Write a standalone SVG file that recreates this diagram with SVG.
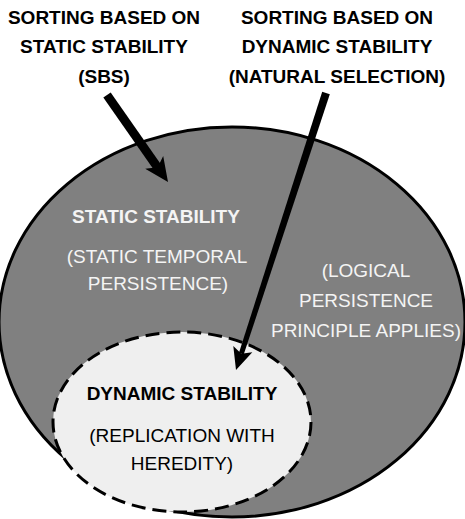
<svg xmlns="http://www.w3.org/2000/svg" width="465" height="519" viewBox="0 0 465 519">
<defs>
<style>
text{font-family:"Liberation Sans",Arial,sans-serif;font-size:19px;text-anchor:middle}
.b{font-weight:bold}
.k{fill:#000}
.w{fill:#f4f4f4}
.arrow{fill:#000;stroke:none}
</style>
</defs>
<rect width="465" height="519" fill="#fff"/>
<g id="static-stability">
<ellipse cx="232" cy="322" rx="233" ry="195" fill="#808080" stroke="#000" stroke-width="3"/>
<text class="b w" x="156" y="223">STATIC STABILITY</text>
<text class="w" x="157" y="263">(STATIC TEMPORAL</text>
<text class="w" x="158" y="290">PERSISTENCE)</text>
</g>
<g id="logical-persistence">
<text class="w" x="366" y="277">(LOGICAL</text>
<text class="w" x="366" y="307">PERSISTENCE</text>
<text class="w" x="366" y="337">PRINCIPLE APPLIES)</text>
</g>
<g id="dynamic-stability">
<ellipse cx="182" cy="422" rx="129" ry="90" fill="#efefef" stroke="#000" stroke-width="3" stroke-dasharray="14,7"/>
<text class="b k" x="182" y="400">DYNAMIC STABILITY</text>
<text class="k" x="182" y="442">(REPLICATION WITH</text>
<text class="k" x="182" y="470">HEREDITY)</text>
</g>
<g id="sbs-label">
<text class="b k" x="104" y="24">SORTING BASED ON</text>
<text class="b k" x="104" y="53">STATIC STABILITY</text>
<text class="b k" x="104" y="83">(SBS)</text>
</g>
<g id="natural-selection-label">
<text class="b k" x="337" y="24">SORTING BASED ON</text>
<text class="b k" x="337" y="53">DYNAMIC STABILITY</text>
<text class="b k" x="337" y="83">(NATURAL SELECTION)</text>
</g>
<g id="connectors">
<line x1="107" y1="95" x2="158" y2="168" stroke="#000" stroke-width="9"/>
<polygon class="arrow" points="168,182 145.2,168.7 157.7,167.3 163.2,156.1"/>
<polygon class="arrow" points="322.2,91.8 329.8,94.2 243.7,354.6 238.9,353"/>
<polygon class="arrow" points="236,370 233.3,346 241.3,353.8 252.3,352.2"/>
</g>
</svg>
